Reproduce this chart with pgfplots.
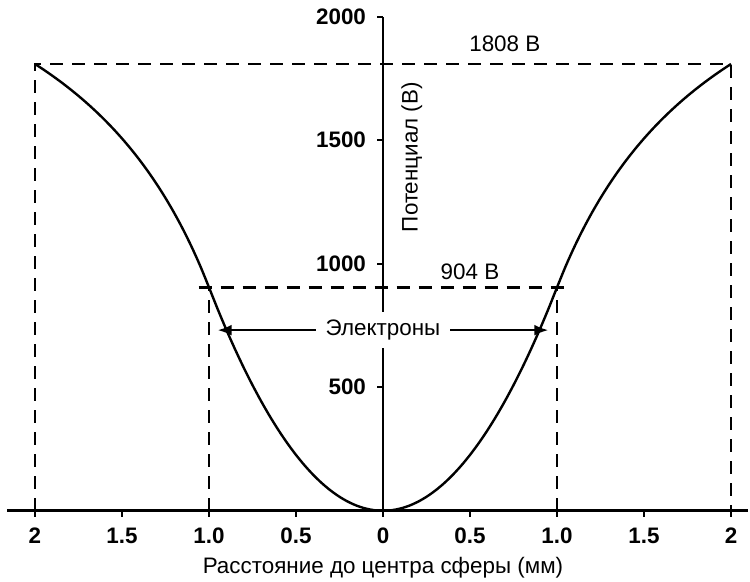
\documentclass[border=0pt]{standalone}
\usepackage{fontspec}
\setmainfont{Liberation Sans}
\usepackage{pgfplots}
\pgfplotsset{compat=1.18}
\usetikzlibrary{arrows.meta}

\begin{document}
\begin{tikzpicture}
\begin{axis}[
  x=87pt, y=0.12354pt,
  xmin=-2.16, xmax=2.1, ymin=0, ymax=2000,
  axis lines=middle,
  axis line style={-, line width=1.4pt},
  every inner x axis line/.append style={-},
  every inner y axis line/.append style={-},
  clip=false,
  xtick={-2,-1.5,-1,-0.5,0,0.5,1,1.5,2},
  xticklabels={2,1.5,1.0,0.5,0,0.5,1.0,1.5,2},
  ytick={500,1000,1500,2000},
  hide obscured x ticks=false,
  hide obscured y ticks=false,
  tick align=outside,
  major tick length=3pt,
  tick style={line width=1pt, black},
  /pgf/number format/1000 sep={},
  /pgf/number format/assume math mode=true,
  ticklabel style={font=\fontsize{11.2}{13}\selectfont\bfseries},
  xticklabel style={yshift=-2pt},
  yticklabel style={xshift=-2pt},
  every axis x label/.style={at={(axis description cs:0.507,-0.1145)}, anchor=center, font=\fontsize{11.2}{13}\selectfont},
  every axis y label/.style={at={(axis description cs:0.546,0.7155)}, anchor=center, rotate=90, font=\fontsize{11.2}{13}\selectfont},
  xlabel={Расстояние до центра сферы (мм)},
  ylabel={Потенциал (В)},
]
% dashed guide lines
\addplot[black, line width=1.4pt, dash pattern=on 6.5pt off 4.5pt] coordinates {(-2,0) (-2,1808) (2,1808) (2,0)};
\addplot[black, line width=1.4pt, dash pattern=on 6.5pt off 4.5pt] coordinates {(-1,0) (-1,904)};
\addplot[black, line width=1.4pt, dash pattern=on 6.5pt off 4.5pt] coordinates {(1,0) (1,904)};
\addplot[black, line width=1.4pt, dash pattern=on 6.5pt off 4.5pt] coordinates {(-1.06,904) (1.06,904)};
% potential curve
\addplot[black, line width=1.2pt, smooth] coordinates {
(-2.0,1808) (-1.95,1784.82) (-1.9,1760.42) (-1.85,1734.70) (-1.8,1707.56) (-1.75,1678.86)
(-1.7,1648.47) (-1.65,1616.24) (-1.6,1582) (-1.55,1545.55) (-1.5,1506.67) (-1.45,1465.10)
(-1.4,1420.57) (-1.35,1372.74) (-1.3,1321.23) (-1.25,1265.6) (-1.2,1205.33) (-1.15,1139.83)
(-1.1,1068.36) (-1.05,990.10) (-1.0,904) (-0.95,815.86) (-0.9,732.24) (-0.85,653.14)
(-0.8,578.56) (-0.75,508.5) (-0.7,442.96) (-0.65,381.94) (-0.6,325.44) (-0.55,273.46)
(-0.5,226) (-0.45,183.06) (-0.4,144.64) (-0.35,110.74) (-0.3,81.36) (-0.25,56.5)
(-0.2,36.16) (-0.15,20.34) (-0.1,9.04) (-0.05,2.26) (0,0)
(0.05,2.26) (0.1,9.04) (0.15,20.34) (0.2,36.16) (0.25,56.5) (0.3,81.36) (0.35,110.74)
(0.4,144.64) (0.45,183.06) (0.5,226) (0.55,273.46) (0.6,325.44) (0.65,381.94) (0.7,442.96)
(0.75,508.5) (0.8,578.56) (0.85,653.14) (0.9,732.24) (0.95,815.86) (1.0,904) (1.05,990.10)
(1.1,1068.36) (1.15,1139.83) (1.2,1205.33) (1.25,1265.6) (1.3,1321.23) (1.35,1372.74)
(1.4,1420.57) (1.45,1465.10) (1.5,1506.67) (1.55,1545.55) (1.6,1582) (1.65,1616.24)
(1.7,1648.47) (1.75,1678.86) (1.8,1707.56) (1.85,1734.70) (1.9,1760.42) (1.95,1784.82)
(2.0,1808)
};
% electrons arrow
\draw[line width=1.2pt, {Latex[length=7pt,width=5.5pt]}-{Latex[length=7pt,width=5.5pt]}] (axis cs:-0.95,731) -- (axis cs:0.95,731);
\node[fill=white, inner xsep=5pt, inner ysep=4pt, font=\fontsize{11.2}{13}\selectfont] at (axis cs:0,731) {Электроны};
\node[font=\fontsize{11.2}{13}\selectfont] at (axis cs:0.70,1889) {1808 В};
\node[font=\fontsize{11.2}{13}\selectfont] at (axis cs:0.50,966) {904 В};
\coordinate (bl) at (axis cs:-2.201,-285);
\coordinate (tr) at (axis cs:2.109,2067);
\end{axis}
\pgfresetboundingbox
\path[use as bounding box] (bl) rectangle (tr);
\end{tikzpicture}
\end{document}
